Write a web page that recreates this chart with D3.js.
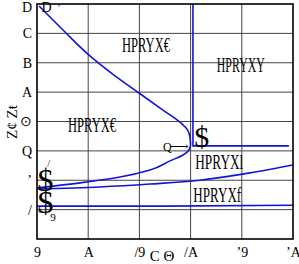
<!DOCTYPE html>
<html>
<head>
<meta charset="utf-8">
<script src="https://cdn.jsdelivr.net/npm/d3@7"></script>
<style>
  body { margin: 0; background: #fff; }
  text { font-family: "Liberation Serif", "DejaVu Serif", serif; fill: #000; }
</style>
</head>
<body>
<svg id="chart"></svg>
<script>
// tick values and the (odd) glyph labels shown on the figure
const xTicks = [0, 5, 10, 15, 20, 25];
const xTickLabels = ["9", "A", "/9", "/A", "ʼ9", "ʼA"];
const yTicks = [1, 2, 3, 4, 5, 6, 7, 8];
const yTickLabels = ["/", "ʼ", "Q", "⊙", "A", "B", "C", "D"];

// C-shaped boundary, listed bottom to top (lower branch, nose, upper branch)
const boundaryC = [
  [0, 1.74], [4.2, 1.91], [8.1, 2.11], [11.04, 2.35], [12.99, 2.66],
  [14.26, 2.86], [14.84, 3.03], [14.99, 3.2], [14.94, 3.47], [14.65, 3.74],
  [13.96, 3.98], [12.3, 4.39], [9.96, 4.97], [7.52, 5.58], [5.08, 6.26],
  [2.64, 7.08], [0.2, 7.93]
];
// slowly rising curve
const boundaryRise = [
  [0, 1.70], [6.15, 1.77], [11.04, 1.87], [15.9, 2.0], [20.8, 2.25], [25, 2.52]
];
// near flat lower line
const boundaryLow = [[0, 1.12], [12.5, 1.12], [25, 1.15]];
// vertical + horizontal corner line
const boundaryCorner = [[15.23, 8], [15.23, 3.17], [24.6, 3.17]];

// region labels
const regionText = ["HPRYX€", "HPRYXY", "HPRYX€", "HPRYXl", "HPRYXf"];
const regionX = [10.64, 19.9, 5.37, 17.8, 17.6];
const regionY = [6.6, 5.92, 3.88, 2.62, 1.5];

const width = 299, height = 264;
const margin = { top: 4, right: 6, bottom: 25, left: 37 };
const w = width - margin.left - margin.right;
const h = height - margin.top - margin.bottom;

const svg = d3.select('#chart')
  .attr('width', width)
  .attr('height', height);

const g = svg.append('g')
  .attr('transform', `translate(${margin.left},${margin.top})`);

const xScale = d3.scaleLinear().domain([0, 25]).range([0, w]);
const yScale = d3.scaleLinear().domain([0, 8]).range([h, 0]);

// grid
g.selectAll('.vgrid')
  .data(xTicks.slice(1, -1))
  .join('line')
  .attr('class', 'vgrid')
  .attr('x1', d => xScale(d)).attr('x2', d => xScale(d))
  .attr('y1', 0).attr('y2', h)
  .attr('stroke', '#444').attr('stroke-width', 1);

g.selectAll('.hgrid')
  .data(yTicks.slice(0, -1))
  .join('line')
  .attr('class', 'hgrid')
  .attr('x1', 0).attr('x2', w)
  .attr('y1', d => yScale(d)).attr('y2', d => yScale(d))
  .attr('stroke', '#444').attr('stroke-width', 1);

// axes with custom glyph labels
const xAxis = d3.axisBottom(xScale)
  .tickValues(xTicks)
  .tickFormat((d, i) => xTickLabels[i])
  .tickSize(0).tickPadding(8);
const yAxis = d3.axisLeft(yScale)
  .tickValues(yTicks)
  .tickFormat((d, i) => yTickLabels[i])
  .tickSize(0).tickPadding(5);

const xAxisG = g.append('g')
  .attr('transform', `translate(0,${h})`)
  .call(xAxis);
const yAxisG = g.append('g').call(yAxis);
[xAxisG, yAxisG].forEach(a => {
  a.select('.domain').remove();
  a.selectAll('text')
    .style('font-family', '"Liberation Serif", serif')
    .style('font-size', '14px');
});
// keep the top label inside the page
yAxisG.selectAll('.tick')
  .filter(d => d === 8)
  .select('text')
  .attr('dy', '0.5em');

// curves
const lineC = d3.line()
  .x(d => xScale(d[0]))
  .y(d => yScale(d[1]))
  .curve(d3.curveMonotoneY);
const lineRise = d3.line()
  .x(d => xScale(d[0]))
  .y(d => yScale(d[1]))
  .curve(d3.curveMonotoneX);
const straight = d3.line()
  .x(d => xScale(d[0]))
  .y(d => yScale(d[1]));

const clip = svg.append('defs').append('clipPath').attr('id', 'plotclip');
clip.append('rect').attr('width', w).attr('height', h);

const curves = g.append('g').attr('clip-path', 'url(#plotclip)');
const paths = [
  lineC(boundaryC),
  lineRise(boundaryRise),
  straight(boundaryLow),
  straight(boundaryCorner)
];
curves.selectAll('.boundary')
  .data(paths)
  .join('path')
  .attr('class', 'boundary')
  .attr('d', d => d)
  .attr('fill', 'none')
  .attr('stroke', '#1414d8')
  .attr('stroke-width', 1.6);

// frame
g.append('rect')
  .attr('width', w).attr('height', h)
  .attr('fill', 'none')
  .attr('stroke', '#000')
  .attr('stroke-width', 1.6);

// region labels
g.selectAll('.region')
  .data(regionText)
  .join('text')
  .attr('class', 'region')
  .attr('x', (d, i) => xScale(regionX[i]))
  .attr('y', (d, i) => yScale(regionY[i]) + 7)
  .attr('text-anchor', 'middle')
  .attr('textLength', 48)
  .attr('lengthAdjust', 'spacingAndGlyphs')
  .style('font-size', '20px')
  .text(d => d);

// point markers / annotations
g.append('text')
  .attr('x', xScale(15.35)).attr('y', yScale(3.2) + 2)
  .style('font-size', '30px')
  .text('$');
g.append('text')
  .attr('x', xScale(12.3)).attr('y', yScale(3.13) + 4)
  .style('font-size', '12px')
  .text('Q');
g.append('text')
  .attr('x', xScale(13.0)).attr('y', yScale(3.13) + 4)
  .style('font-size', '13px')
  .text('⟶');

// stacked markers on the left edge, with their small tags
const leftMarks = g.append('text')
  .style('font-size', '32px');
leftMarks.append('tspan')
  .attr('x', xScale(0.05)).attr('y', yScale(1.72) + 3)
  .text('$');
leftMarks.append('tspan')
  .attr('x', xScale(0.05)).attr('y', yScale(0.98) + 3)
  .text('$');
leftMarks.append('tspan')
  .attr('x', xScale(1.3)).attr('y', yScale(0.6))
  .style('font-size', '11px')
  .text('9');
leftMarks.append('tspan')
  .attr('x', xScale(1.0)).attr('y', yScale(2.45))
  .style('font-size', '10px')
  .text('/');

g.append('text')
  .attr('x', xScale(0.45)).attr('y', yScale(7.72))
  .style('font-size', '14px')
  .text('D');
g.append('text')
  .attr('x', xScale(1.95)).attr('y', yScale(7.75))
  .style('font-size', '11px')
  .text('ʼ');

// axis titles
svg.append('text')
  .attr('x', 162).attr('y', 261)
  .attr('text-anchor', 'middle')
  .style('font-size', '15px')
  .text('C Θ');
svg.append('text')
  .attr('transform', 'translate(17,122) rotate(-90)')
  .attr('text-anchor', 'middle')
  .style('font-size', '15px')
  .text('Z¢ Zŧ');
</script>
</body>
</html>
